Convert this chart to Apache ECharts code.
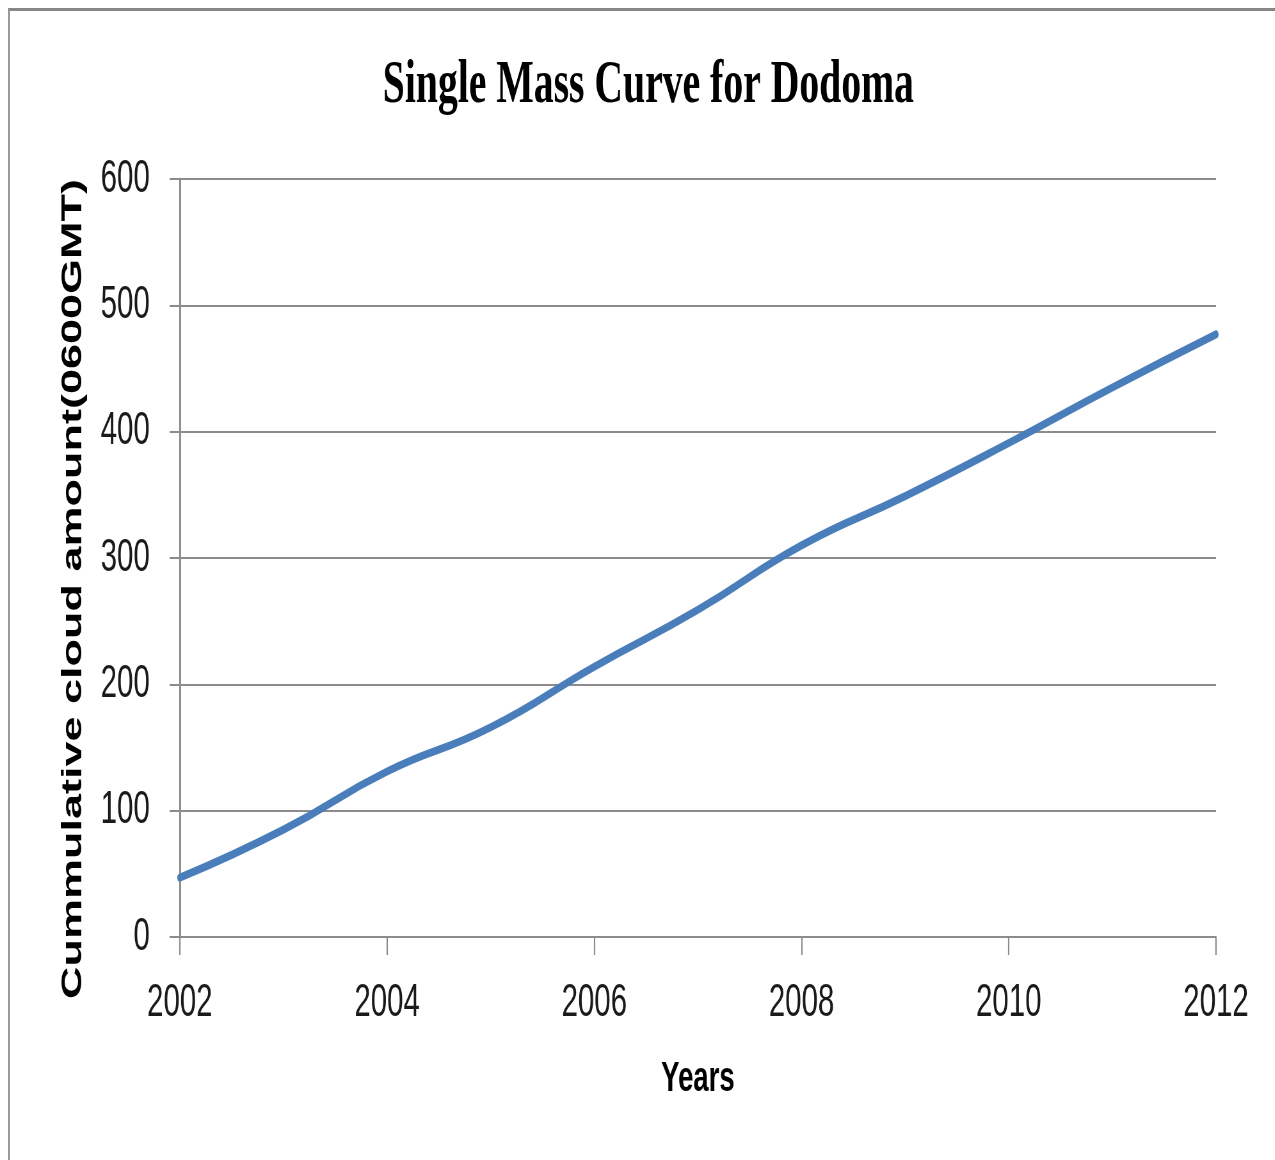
<!DOCTYPE html>
<html>
<head>
<meta charset="utf-8">
<title>Single Mass Curve for Dodoma</title>
<script src="https://cdn.jsdelivr.net/npm/echarts@6/dist/echarts.min.js"></script>
<style>
  html, body { margin: 0; padding: 0; background: #ffffff; overflow: hidden; }
  body { width: 1275px; height: 1160px; position: relative; }
  /* outer chart-area frame (only its top and left edges fall inside the page) */
  #frame {
    position: absolute; left: 8px; top: 8px; width: 1400px; height: 1300px;
    border-top: 3px solid #878787; border-left: 2px solid #9a9a9a;
  }
  /* the chart is laid out wide and then condensed horizontally */
  #chart {
    position: absolute; left: 0; top: 0; width: 1992px; height: 1160px;
    transform: scaleX(0.64); transform-origin: 0 0;
  }
</style>
</head>
<body>
<div id="frame"></div>
<div id="chart"></div>
<script>
// Years of record and cumulative cloud amount at 0600 GMT
const years = [2002, 2003, 2004, 2005, 2006, 2007, 2008, 2009, 2010, 2011, 2012];
const cumulativeCloud = [47, 85, 131, 166, 214, 259, 310, 349, 391, 435, 477];

// Axis ranges / tick steps
const yearMin = 2002, yearMax = 2012, yearStep = 2;
const cloudMin = 0, cloudMax = 600, cloudStep = 100;

const chartTitle = 'Single Mass Curve for Dodoma';
const xTitle = 'Years';
const yTitle = 'Cummulative cloud amount(0600GMT)';

const seriesData = years.map((y, i) => [y, cumulativeCloud[i]]);

const chart = echarts.init(document.getElementById('chart'), null, { renderer: 'canvas' });

chart.setOption({
  animation: false,
  title: {
    text: chartTitle,
    left: 598,
    top: 55,
    padding: 0,
    textStyle: {
      fontFamily: '"Liberation Serif", "Times New Roman", serif',
      fontWeight: 'bold',
      fontSize: 62,
      color: '#000000'
    }
  },
  grid: { left: 281, right: 92, top: 179, bottom: 223, containLabel: false },
  xAxis: {
    type: 'value',
    min: yearMin,
    max: yearMax,
    interval: yearStep,
    name: xTitle,
    nameLocation: 'middle',
    nameGap: 121,
    nameTextStyle: {
      fontFamily: '"Liberation Sans", Arial, sans-serif',
      fontWeight: 'bold',
      fontSize: 43,
      color: '#000000'
    },
    axisLine: { show: true, lineStyle: { color: '#8c8c8c', width: 2 } },
    axisTick: { show: true, length: 18, lineStyle: { color: '#8c8c8c', width: 2.2 } },
    splitLine: { show: false },
    axisLabel: {
      margin: 43,
      fontFamily: '"Liberation Sans", Arial, sans-serif',
      fontSize: 46,
      color: '#1a1a1a',
      formatter: v => String(v)
    }
  },
  yAxis: {
    type: 'value',
    min: cloudMin,
    max: cloudMax,
    interval: cloudStep,
    name: yTitle,
    nameLocation: 'middle',
    nameRotate: 90,
    nameGap: 144,
    nameTextStyle: {
      fontFamily: '"Liberation Sans", Arial, sans-serif',
      fontWeight: 'bold',
      fontSize: 45,
      color: '#000000',
      padding: [0, 62, 0, 0]
    },
    axisLine: { show: true, lineStyle: { color: '#8c8c8c', width: 3 } },
    axisTick: { show: true, length: 16, lineStyle: { color: '#8c8c8c', width: 2 } },
    splitLine: { show: true, lineStyle: { color: '#8c8c8c', width: 2 } },
    axisLabel: {
      margin: 47,
      fontFamily: '"Liberation Sans", Arial, sans-serif',
      fontSize: 46,
      color: '#1a1a1a'
    }
  },
  series: [{
    type: 'line',
    data: seriesData,
    smooth: true,
    showSymbol: false,
    symbol: 'none',
    lineStyle: { color: '#4a7ebb', width: 8, cap: 'round', join: 'round' },
    z: 5
  }]
});
</script>
</body>
</html>
